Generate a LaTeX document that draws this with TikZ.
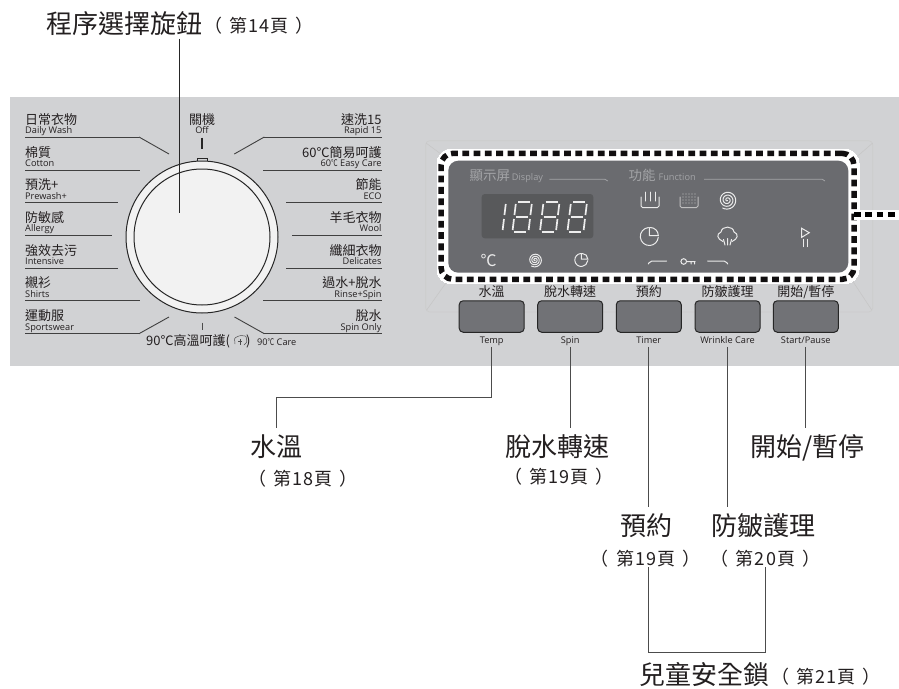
\documentclass[tikz,border=0pt]{standalone}
\usepackage{fontspec}
\usetikzlibrary{calc}
\setmainfont{Noto Sans CJK TC}
\newfontfamily\enfont{Open Sans}
\newfontfamily\pgfont{Noto Sans CJK TC}[LetterSpace=6]
\definecolor{panelgray}{HTML}{D1D2D4}
\definecolor{dispgray}{HTML}{6A6B6F}
\definecolor{ledgray}{HTML}{58595B}
\definecolor{dimtext}{HTML}{A3A4A7}
\definecolor{inktext}{HTML}{231F20}
\newcommand{\smallcel}{\scalebox{.72}[1]{{\normalfont ℃}}}
\newcommand{\pgtext}[1]{（\kern.4em#1\kern.4em）}
% one clock icon: x, y, radius
\newcommand{\clockicon}[3]{
 \draw[icon] ($(#1,#2)+(-95:#3)$) arc[start angle=-95,end angle=-355,radius=#3];
 \draw[icon] (#1,#2-#3) -- (#1,#2-1) -- (#1+#3,#2-1) arc[start angle=0,end angle=-90,radius=#3-1];
}
% one spiral icon: x, y, radius
\newcommand{\spiralicon}[3]{
 \draw[icon] plot[domain=60:1200, samples=90, smooth] ({#1+#3*\x/1200*cos(\x)},{#2+#3*\x/1200*sin(\x)});
}
% one led digit
\newcommand{\leddigit}[2]{
 \begin{scope}[shift={(#1,202)},xslant=.12]
 \foreach \ua/\va/\ub/\vb in {#2} \draw[ledseg] (\ua,\va) -- (\ub,\vb);
 \end{scope}
}
\tikzset{
 zhpanel/.style={anchor=base, inner sep=0, text=inktext, font=\fontsize{13}{15}\selectfont},
 enpanel/.style={anchor=base, inner xsep=0, inner ysep=1.5pt, text height=6pt, text depth=2.2pt, text=inktext, font=\enfont\fontsize{9.2}{11}\selectfont},
 biglabel/.style={anchor=base, inner xsep=0, inner ysep=6pt, text height=22pt, text depth=5pt, text=inktext, font=\fontsize{26}{30}\selectfont},
 pglabel/.style={anchor=base, inner xsep=0, inner ysep=0, text height=14pt, text depth=1pt, text=inktext, font=\pgfont\fontsize{18}{20}\selectfont},
 leader/.style={draw=black!70, line width=1pt},
 rowline/.style={draw=black!75, line width=.9pt},
 btnbox/.style={draw=black!85, line width=1pt, fill=dispgray!95!white, rounded corners=4pt, minimum width=65pt, minimum height=31.5pt, inner sep=0},
 icon/.style={draw=white!92!black, line width=1pt, line cap=round},
 ledseg/.style={draw=white!93!black, line width=1.7pt},
 dimline/.style={draw=dimtext, line width=.8pt},
}
\begin{document}
\begin{tikzpicture}[x=1pt,y=-1pt]
\useasboundingbox (0,0) rectangle (899,688);
\fill[panelgray] (10,97) rectangle (899,366);
% dial
\draw[draw=black!85, line width=1pt, fill=panelgray] (197,162) -- (197,158.5) -- (207,158.5) -- (207,162);
\node[circle, draw=black!85, line width=1pt, fill=white!95!black, minimum size=152pt, inner sep=0] (dialouter) at (202,237) {};
\node[circle, draw=black!85, line width=1pt, fill=white!95!black, minimum size=136pt, inner sep=0] (dialinner) at (202,237) {};
\coordinate (dialpt) at (179.3,212.7);
\draw[line width=2pt, draw=black!85] (202,137.7) -- (202,149);
\draw[line width=.8pt, draw=black!70] (202,322.7) -- (202,329.7);
\node[zhpanel] (zhOff) at (202,124) {關機};
\node[enpanel] (enOff) at (202,133) {Off};
% left rows
\foreach \zh/\en/\ly/\lx in {日常衣物/Daily Wash/137/139, 棉質/Cotton/170/140, 預洗+/Prewash+/202.7/118, 防敏感/Allergy/235.3/112, 強效去污/Intensive/268.3/118, 襯衫/Shirts/300.7/140, 運動服/Sportswear/333.7/139} {
 \node[zhpanel, anchor=base west] (zh\ly) at (25,\ly-13) {\zh};
 \node[enpanel, anchor=base west] (en\ly) at (25,\ly-3.5) {\en};
 \draw[rowline] (25,\ly) -- (\lx,\ly);
}
\draw[rowline] (139,137) -- (169,154);
\draw[rowline] (139,333.7) -- (169,317);
% right rows
\foreach \zh/\en/\ly/\lx in {速洗15/Rapid 15/137/264.3, 60℃簡易呵護/60\smallcel{} Easy Care/170/263.3, 節能/ECO/202.7/285.7, 羊毛衣物/Wool/235.3/291.7, 纖細衣物/Delicates/268.3/285.7, 過水+脫水/Rinse+Spin/300.7/263.3, 脫水/Spin Only/333.7/264.3} {
 \node[zhpanel, anchor=base east] (zhr\ly) at (381.7,\ly-13) {\zh};
 \node[enpanel, anchor=base east] (enr\ly) at (381.7,\ly-3.5) {\en};
 \draw[rowline] (381.7,\ly) -- (\lx,\ly);
}
\draw[rowline] (264.3,137) -- (234.3,154);
\draw[rowline] (264.3,333.7) -- (234.5,317);
\node[zhpanel, anchor=base west] (zhCare) at (146,345.5) {90℃高溫呵護(\hspace{16pt})};
\node[enpanel, anchor=base west] (enCare) at (257,345.5) {90\smallcel{} Care};
\draw[draw=black!70, line width=.5pt, rounded corners=1pt] (235,344) -- (234.5,338) -- (240,335.5) -- (246,336) -- (247,342) -- (244,345);
\draw[draw=black!70, line width=.5pt] (240,339) -- (240,345) (238,341) -- (242,341);
% display frame
\draw[draw=black!20, line width=.7pt, rounded corners=4pt] (425.7,140.7) rectangle (872.7,312);
\draw[draw=black!22, line width=.6pt] (426,143) -- (445,157) (872.7,143) -- (853,160) (426.7,310) -- (448,280) (871.7,310) -- (850,277);
\node[draw=white, fill=white, line width=0pt, rounded corners=14pt, minimum width=422pt, minimum height=134.5pt, inner sep=0] (dispwhite) at (648,216.3) {};
\node[fill=dispgray, rounded corners=10pt, minimum width=400pt, minimum height=112pt, inner sep=0] (disppanel) at (648.3,216.7) {};
\node[draw=inktext!50!black, line width=5.5pt, dash pattern=on 6.8pt off 4.5pt, rounded corners=12pt, minimum width=413pt, minimum height=126pt, inner sep=0, outer sep=0] (dispdash) at (647.5,216.3) {};
\coordinate (dispend) at (899,214.5);
\draw[draw=white, line width=10pt] (dispdash.east |- dispend) -- (dispend);
\draw[draw=black, line width=5pt, dash pattern=on 6.8pt off 4.5pt] (dispdash.east |- dispend) -- (dispend);
\node[anchor=base west, inner sep=0, text=dimtext, font=\fontsize{13.5}{15}\selectfont] (zhDisp) at (469.3,180) {顯示屏};
\node[anchor=base west, inner sep=0, text=dimtext, font=\enfont\fontsize{9.2}{11}\selectfont] (enDisp) at (511.7,180.5) {Display};
\node[anchor=base west, inner sep=0, text=dimtext, font=\fontsize{13.5}{15}\selectfont] (zhFunc) at (628.3,180) {功能};
\node[anchor=base west, inner sep=0, text=dimtext, font=\enfont\fontsize{9.2}{11}\selectfont] (enFunc) at (658.3,180.5) {Function};
\draw[dimline] (549.3,179.3) -- (605,179.3) -- (607.7,181);
\draw[dimline] (704,179.3) -- (822.3,179.3) -- (825,181);
% led
\fill[ledgray, rounded corners=3pt] (481.7,194) rectangle (593.3,238.3);
\leddigit{489}{17/2/17/13, 17/17/17/28}
\foreach \xd in {515,542.5,570} {
 \leddigit{\xd}{1/2/1/13, 1/17/1/28, 17/2/17/13, 17/17/17/28, 3/0/15/0, 3/15/15/15, 3/30/15/30}
}
\node[inner sep=0, text=white!92!black, font=\fontsize{16}{18}\selectfont] (celsius) at (488.5,260) {℃};
\spiralicon{535}{260}{7}
\clockicon{581.3}{260}{6.5}
% function icons
\draw[icon, rounded corners=1.5pt] (641,197) -- (641,207.5) -- (659,207.5) -- (659,197);
\draw[icon] (645.7,192) -- (645.7,201) (650.5,192) -- (650.5,201) (655,192) -- (655,201);
\draw[icon, rounded corners=1.5pt, draw=white!75!black] (680,197) -- (680,207.5) -- (698,207.5) -- (698,197);
\foreach \xd in {683,686,689,692,695} \foreach \yd in {194,197,200,203} \fill[white!75!black] (\xd,\yd) circle (.55);
\spiralicon{727.3}{200}{9.3}
\clockicon{649.3}{236.5}{9}
\draw[icon] (723,241.5) .. controls (717,239) and (716,234) .. (721,232) .. controls (722,225.5) and (733,225.5) .. (734,232) .. controls (739,234) and (738,239) .. (732,241.5);
\draw[icon] (723.5,239.5) -- (725,245) (727.5,238.5) -- (727.5,245) (731.5,239.5) -- (730,245);
\draw[icon] (801.7,228.3) -- (809.3,232.7) -- (801.7,237.3) -- cycle;
\draw[icon] (803.3,239.3) -- (803.3,246.7) (807.7,239.3) -- (807.7,246.7);
\draw[icon, rounded corners=2pt] (648.3,264) -- (650,261) -- (666.7,261);
\draw[icon, rounded corners=2pt] (707.7,261) -- (726,261) -- (727.7,264);
\draw[icon] (683.7,261.5) circle (2.8) (686.5,261.5) -- (695,261.5) (691,261.5) -- (691,264) (694.5,261.5) -- (694.5,264);
% buttons
\foreach \xc/\nm/\zh/\en in {491.7/Temp/水溫/Temp, 570.2/Spin/脫水轉速/Spin, 648.8/Timer/預約/Timer, 727.5/Wrinkle/防皺護理/Wrinkle Care, 805.8/Start/{開始/暫停}/{Start/Pause}} {
 \node[btnbox] (btn\nm) at (\xc,316.5) {};
 \node[zhpanel] (zh\nm) at (\xc,296) {\zh};
 \node[enpanel] (en\nm) at (\xc,343) {\en};
}
% labels
\node[biglabel, anchor=base west, inner ysep=0pt] (lblDial) at (46,33.5) {程序選擇旋鈕};
\node[pglabel] (pgDial) at (259,32.5) {\pgtext{第14頁}};
\node[biglabel] (lblTemp) at (276.5,456) {水溫};
\node[pglabel] (pgTemp) at (303,485.5) {\pgtext{第18頁}};
\node[biglabel] (lblSpin) at (557,456) {脫水轉速};
\node[pglabel] (pgSpin) at (559,483.8) {\pgtext{第19頁}};
\node[biglabel] (lblStart) at (807.5,456) {開始/暫停};
\node[biglabel] (lblTimer) at (646.2,535.5) {預約};
\node[pglabel] (pgTimer) at (645.8,565.8) {\pgtext{第19頁}};
\node[biglabel] (lblWrinkle) at (763.8,535.5) {防皺護理};
\node[pglabel] (pgWrinkle) at (765.5,565.8) {\pgtext{第20頁}};
\node[biglabel, inner ysep=10pt] (lblLock) at (704.6,684.5) {兒童安全鎖};
\node[pglabel] (pgLock) at (826,683.5) {\pgtext{第21頁}};
% leaders
\coordinate (turnTemp) at (276.5,397.7);
\draw[draw=black!85, line width=.9pt] (lblDial.south -| dialpt) -- (dialpt);
\draw[leader] (enTemp.south) |- (turnTemp) -- (lblTemp.north);
\draw[leader] (enSpin.south) -- (enSpin.south |- lblSpin.north);
\draw[leader] (enTimer.south) -- (enTimer.south |- lblTimer.north);
\draw[leader] (enWrinkle.south) -- (enWrinkle.south |- lblWrinkle.north);
\draw[leader] (enStart.south) -- (enStart.south |- lblStart.north);
\draw[leader] (enTimer.south |- pgTimer.south) -- (enTimer.south |- lblLock.north) -| (pgWrinkle.south);
\end{tikzpicture}
\end{document}
